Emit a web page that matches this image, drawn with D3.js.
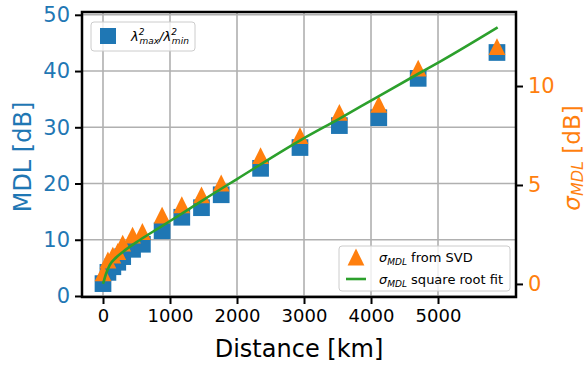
<!DOCTYPE html>
<html><head><meta charset="utf-8">
<script src="https://cdn.jsdelivr.net/npm/d3@7"></script>
<style>body{margin:0;background:#fff}svg{display:block;font-family:"DejaVu Sans",sans-serif}</style>
</head><body><svg id="c" width="588" height="365"></svg>
<script>
const distances = [0, 73.5, 147, 220.5, 294, 441, 588, 882, 1176, 1470, 1764, 2352, 2940, 3528, 4116, 4704, 5880];
const mdlValues = [2.2, 4.2, 5.2, 6.0, 7.0, 8.3, 9.2, 11.6, 14.0, 15.7, 18.0, 22.7, 26.4, 30.3, 31.7, 38.7, 43.3];
const sigmaValues = [0.56, 1.21, 1.46, 1.64, 2.06, 2.47, 2.65, 3.48, 4.0, 4.5, 5.1, 6.48, 7.49, 8.67, 9.08, 10.9, 11.99];
const fitDistances = [0, 50, 100, 200, 300, 550, 825, 1200, 1500, 2000, 2950, 3537, 4000, 4706, 5050, 5890];
const fitValues = [0, 0.55, 0.95, 1.35, 1.63, 2.22, 2.81, 3.6, 4.25, 5.3, 7.27, 8.37, 9.26, 10.62, 11.27, 12.96];
const xTicks = [0, 1000, 2000, 3000, 4000, 5000];
const yLeftTicks = [0, 10, 20, 30, 40, 50];
const yRightTicks = [0, 5, 10];

const blue = "#1f77b4", orange = "#ff7f0e", green = "#2ca02c";
const L = 82, R = 516, T = 12, B = 297;
const svg = d3.select("#c");
const x = d3.scaleLinear().domain([-313.4, 6164]).range([L, R]);
const yL = d3.scaleLinear().domain([-0.18, 50.5]).range([B, T]);
const yR = d3.scaleLinear().domain([-0.66, 13.74]).range([B, T]);

// grid
const g = svg.append("g");
g.selectAll("line.vx").data(xTicks).join("line")
  .attr("x1", d => x(d)).attr("x2", d => x(d)).attr("y1", T).attr("y2", B)
  .attr("stroke", "#b0b0b0").attr("stroke-width", 1.6);
g.selectAll("line.hy").data(yLeftTicks).join("line")
  .attr("x1", L).attr("x2", R).attr("y1", d => yL(d)).attr("y2", d => yL(d))
  .attr("stroke", "#b0b0b0").attr("stroke-width", 1.6);

// squares
const sq = 16.7;
svg.append("g").selectAll("rect").data(distances).join("rect")
  .attr("x", (d) => x(d) - sq/2).attr("y", (d,i) => yL(mdlValues[i]) - sq/2)
  .attr("width", sq).attr("height", sq).attr("fill", blue);

// triangles
const tri = 8.4;
const triPath = (cx, cy) => `M${cx},${cy-tri}L${cx+tri},${cy+tri}L${cx-tri},${cy+tri}Z`;
svg.append("g").selectAll("path").data(distances).join("path")
  .attr("d", (d,i) => triPath(x(d), yR(sigmaValues[i]))).attr("fill", orange);

// fit line
const line = d3.line().x(d => x(d[0])).y(d => yR(d[1])).curve(d3.curveMonotoneX);
svg.append("path").datum(fitDistances.map((d,i) => [d, fitValues[i]]))
  .attr("d", line).attr("fill", "none").attr("stroke", green).attr("stroke-width", 2.6);

// spines
svg.append("rect").attr("x", L).attr("y", T).attr("width", R-L).attr("height", B-T)
  .attr("fill", "none").attr("stroke", "#000").attr("stroke-width", 2.5);

// axes
const ax = d3.axisBottom(x).tickValues(xTicks).tickSize(7).tickPadding(5).tickFormat(d3.format("d"));
const gx = svg.append("g").attr("transform", `translate(0,${B})`).call(ax);
gx.select(".domain").remove();
gx.selectAll("line").attr("stroke", "#000").attr("stroke-width", 2);
gx.selectAll("text").attr("font-size", 18).attr("fill", "#000").attr("font-family", "DejaVu Sans");

const ayl = d3.axisLeft(yL).tickValues(yLeftTicks).tickSize(7).tickPadding(5);
const gyl = svg.append("g").attr("transform", `translate(${L},0)`).call(ayl);
gyl.select(".domain").remove();
gyl.selectAll("line").attr("stroke", "#000").attr("stroke-width", 2);
gyl.selectAll("text").attr("font-size", 21).attr("fill", blue).attr("font-family", "DejaVu Sans");

const ayr = d3.axisRight(yR).tickValues(yRightTicks).tickSize(7).tickPadding(5);
const gyr = svg.append("g").attr("transform", `translate(${R},0)`).call(ayr);
gyr.select(".domain").remove();
gyr.selectAll("line").attr("stroke", "#000").attr("stroke-width", 2);
gyr.selectAll("text").attr("font-size", 21).attr("fill", orange).attr("font-family", "DejaVu Sans");

// labels
svg.append("text").attr("x", 299).attr("y", 357).attr("text-anchor", "middle")
  .attr("font-size", 24).text("Distance [km]");
svg.append("text").attr("transform", "translate(31,157) rotate(-90)").attr("text-anchor", "middle")
  .attr("font-size", 24).attr("fill", blue).text("MDL [dB]");
const rl = svg.append("text").attr("transform", "translate(580,158) rotate(-90)").attr("text-anchor", "middle")
  .attr("font-size", 23).attr("fill", orange);
rl.append("tspan").attr("font-style", "italic").text("σ");
rl.append("tspan").attr("font-style", "italic").attr("font-size", 16).attr("dy", 3).text("MDL");
rl.append("tspan").attr("dy", -3).text(" [dB]");

// legend 1
const lg1 = svg.append("g");
lg1.append("rect").attr("x", 91).attr("y", 22).attr("width", 104).attr("height", 29).attr("rx", 3)
  .attr("fill", "#fff").attr("fill-opacity", 0.8).attr("stroke", "#ccc").attr("stroke-width", 1);
lg1.append("rect").attr("x", 100).attr("y", 28).attr("width", 16).attr("height", 16).attr("fill", blue);
const t1 = lg1.append("text").attr("x", 131).attr("y", 41).attr("font-size", 13).attr("font-style", "italic");
t1.append("tspan").text("λ");
t1.append("tspan").attr("font-size", 9).attr("dy", -6).text("2");
t1.append("tspan").attr("font-size", 9).attr("dx", -5).attr("dy", 9).text("max");
t1.append("tspan").attr("dy", -3).text("/λ");
t1.append("tspan").attr("font-size", 9).attr("dy", -6).text("2");
t1.append("tspan").attr("font-size", 9).attr("dx", -5).attr("dy", 9).text("min");

// legend 2
const lg2 = svg.append("g");
lg2.append("rect").attr("x", 339).attr("y", 246).attr("width", 171).attr("height", 45).attr("rx", 3)
  .attr("fill", "#fff").attr("fill-opacity", 0.8).attr("stroke", "#ccc").attr("stroke-width", 1);
lg2.append("path").attr("d", triPath(356, 257)).attr("fill", orange);
lg2.append("line").attr("x1", 346).attr("x2", 366).attr("y1", 279).attr("y2", 279)
  .attr("stroke", green).attr("stroke-width", 2.6);
function sig(y, rest) {
  const t = lg2.append("text").attr("x", 379).attr("y", y).attr("font-size", 13);
  t.append("tspan").attr("font-style", "italic").text("σ");
  t.append("tspan").attr("font-style", "italic").attr("font-size", 9).attr("dy", 3).text("MDL");
  t.append("tspan").attr("dy", -3).text(" " + rest);
}
sig(262, "from SVD");
sig(284, "square root fit");
</script></body></html>
